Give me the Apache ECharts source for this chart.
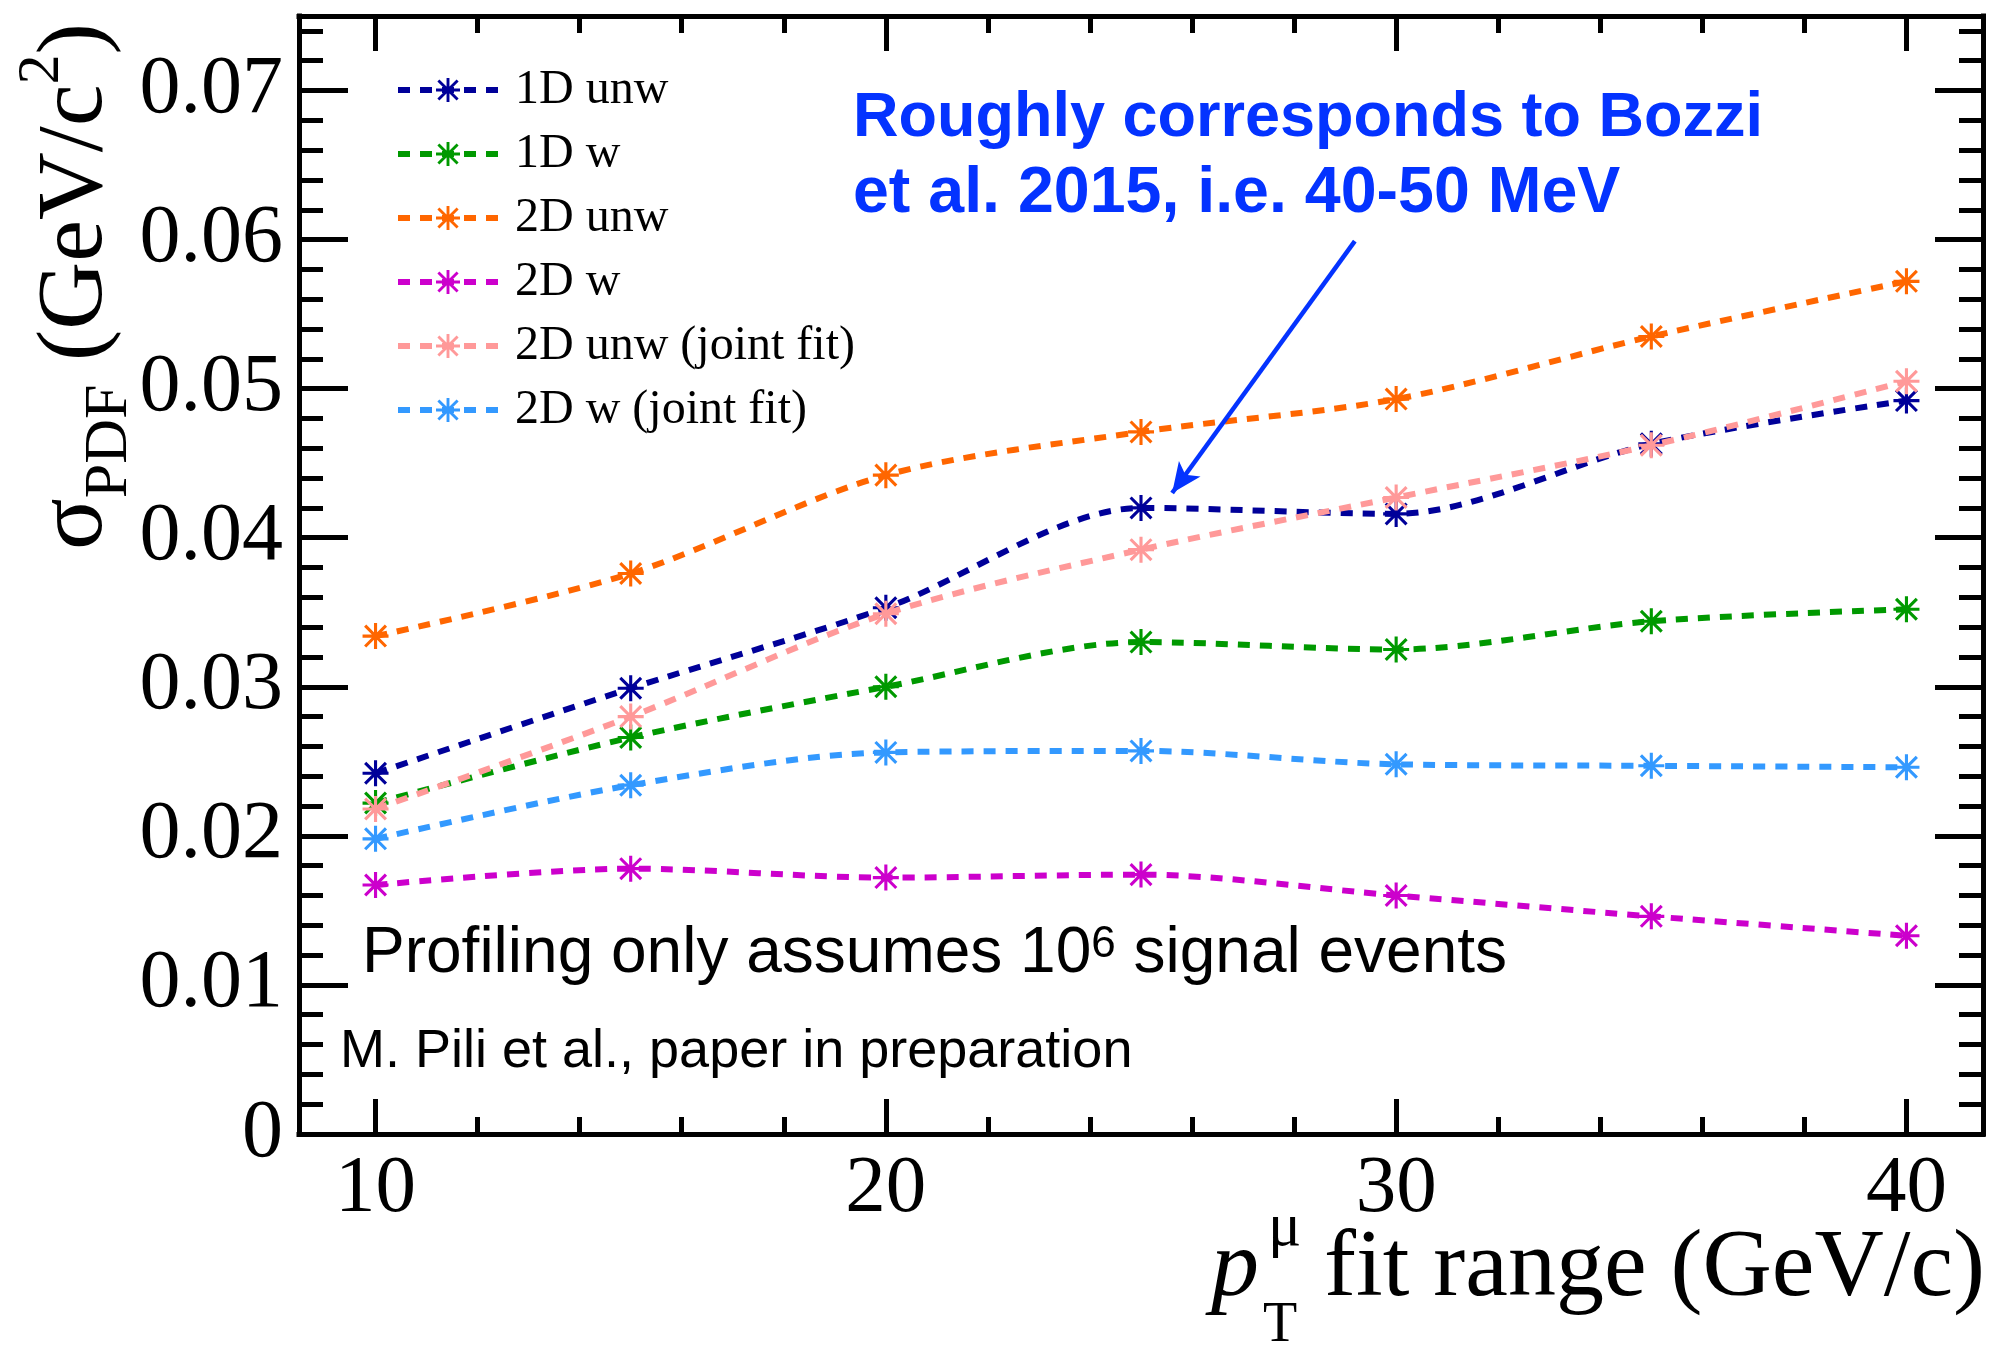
<!DOCTYPE html>
<html>
<head>
<meta charset="utf-8">
<script src="https://cdn.jsdelivr.net/npm/echarts@6/dist/echarts.min.js"></script>
<style>
  html, body { margin: 0; padding: 0; background: #ffffff; }
  #chart { width: 1993px; height: 1347px; }
</style>
</head>
<body>
<div id="chart"></div>
<script>
// pT fit range upper edge (GeV/c)
const fitRange = [10, 15, 20, 25, 30, 35, 40];

// sigma_PDF (GeV/c^2) for each fit configuration
const unw1D      = [0.0242, 0.0299, 0.0353, 0.0420, 0.0416, 0.0463, 0.0492];
const w1D        = [0.0222, 0.0266, 0.0300, 0.0330, 0.0325, 0.0344, 0.0352];
const unw2D      = [0.0334, 0.0376, 0.0442, 0.0471, 0.0493, 0.0535, 0.0572];
const w2D        = [0.0167, 0.0178, 0.0172, 0.0174, 0.0160, 0.0146, 0.0133];
const unw2DJoint = [0.0218, 0.0280, 0.0349, 0.0392, 0.0427, 0.0462, 0.0505];
const w2DJoint   = [0.0198, 0.0234, 0.0256, 0.0257, 0.0248, 0.0247, 0.0246];

const seriesNames = ['1D unw', '1D w', '2D unw', '2D w', '2D unw (joint fit)', '2D w (joint fit)'];
const seriesValues = [unw1D, w1D, unw2D, w2D, unw2DJoint, w2DJoint];

// Axis ticks
const xMajorTicks = [10, 20, 30, 40];
const xMinorTicks = [12, 14, 16, 18, 22, 24, 26, 28, 32, 34, 36, 38];
const yMajorTicks = [0, 0.01, 0.02, 0.03, 0.04, 0.05, 0.06, 0.07];
const yMinorTicks = [0.002, 0.004, 0.006, 0.008, 0.012, 0.014, 0.016, 0.018,
                     0.022, 0.024, 0.026, 0.028, 0.032, 0.034, 0.036, 0.038,
                     0.042, 0.044, 0.046, 0.048, 0.052, 0.054, 0.056, 0.058,
                     0.062, 0.064, 0.066, 0.068, 0.072, 0.074];

// Arrow from the note towards the 25 GeV/c point (data coordinates, tip last)
const arrowFrom = [29.19, 0.0599];
const arrowTo   = [25.61, 0.0430];

const COLORS = ['#000099', '#009900', '#ff6600', '#cc00cc', '#ff9999', '#3399ff'];
const SERIF = '"Liberation Serif", "Times New Roman", serif';
const SANS = '"Liberation Sans", Arial, Helvetica, sans-serif';
const NOTE_BLUE = '#0433ff';

// eight-armed star marker
const STAR = 'path://M44,0L56,0L56,100L44,100Z M0,44L100,44L100,56L0,56Z ' +
  'M5.76,14.24L14.24,5.76L94.24,85.76L85.76,94.24Z M85.76,5.76L94.24,14.24L14.24,94.24L5.76,85.76Z';

const measureCtx = document.createElement('canvas').getContext('2d');
function textWidth(str, font) { measureCtx.font = font; return measureCtx.measureText(str).width; }

// text element placed by its alphabetic baseline
function baseText(str, font, size, x, baseline, fill, sans) {
  const k = sans ? 0.3465 : 0.3375;
  return {
    type: 'text', x: x, y: baseline - k * size, silent: true,
    style: { text: str, font: font, fill: fill || '#000',
             align: 'left', textAlign: 'left', verticalAlign: 'middle', textVerticalAlign: 'middle' }
  };
}

const axisLineStyle = { color: '#000', width: 5, cap: 'square' };
const tickLineStyle = { color: '#000', width: 5 };

function xAxisDef(position, ticks, len, withLine, withLabel) {
  return {
    type: 'value', position: position, min: 8.5, max: 41.5,
    axisLine: { show: withLine, onZero: false, lineStyle: axisLineStyle },
    axisTick: { show: true, inside: true, length: len, customValues: ticks, lineStyle: tickLineStyle },
    axisLabel: withLabel ? {
      show: true, customValues: ticks, margin: 15,
      fontFamily: SERIF, fontSize: 81, color: '#000'
    } : { show: false },
    splitLine: { show: false }
  };
}
function yAxisDef(position, ticks, len, withLine, withLabel) {
  return {
    type: 'value', position: position, min: 0, max: 0.075,
    axisLine: { show: withLine, onZero: false, lineStyle: axisLineStyle },
    axisTick: { show: true, inside: true, length: len, customValues: ticks, lineStyle: tickLineStyle },
    axisLabel: withLabel ? {
      show: true, customValues: ticks, margin: 16,
      fontFamily: SERIF, fontSize: 82, color: '#000',
      formatter: v => (v === 0 ? '0' : v.toFixed(2))
    } : { show: false },
    splitLine: { show: false }
  };
}

const series = seriesValues.map((vals, i) => ({
  name: seriesNames[i],
  type: 'line',
  xAxisIndex: 0, yAxisIndex: 0,
  data: fitRange.map((x, j) => [x, vals[j]]),
  smooth: 0.3,
  symbol: STAR, symbolSize: 26, symbolKeepAspect: true,
  lineStyle: { color: COLORS[i], width: 6, type: [12, 10] },
  itemStyle: { color: COLORS[i], borderWidth: 0 },
  emphasis: { disabled: true },
  z: 2 + i
}));

series[0].markLine = {
  silent: true,
  symbol: ['none', 'arrow'],
  symbolSize: [20, 30],
  label: { show: false },
  emphasis: { disabled: true },
  lineStyle: { color: NOTE_BLUE, width: 4.5, type: 'solid' },
  data: [[{ coord: arrowFrom }, { coord: arrowTo }]]
};

// ---------- axis titles and notes ----------
const graphics = [];

// x title: p_T^mu fit range (GeV/c), right-aligned to the axis end
const xTitleSize = 96;
const xTitleFont = xTitleSize + 'px ' + SERIF;
const fitStr = 'fit range (GeV/c)';
const fitLeft = 1985 - textWidth(fitStr, xTitleFont);
graphics.push(baseText(fitStr, xTitleFont, xTitleSize, fitLeft, 1302));
graphics.push(baseText('p', 'italic ' + xTitleFont, xTitleSize, fitLeft - 113, 1302));
graphics.push(baseText('\u03bc', '62px ' + SERIF, 62, fitLeft - 56, 1250));
graphics.push(baseText('T', '56px ' + SERIF, 56, fitLeft - 61, 1345));

// y title: sigma_PDF (GeV/c^2), rotated, reading upwards from the bottom
const ySegs = [
  { t: '\u03c3', size: 96, shift: 0 },
  { t: 'PDF', size: 62, shift: 23 },
  { t: ' (GeV/c', size: 94, shift: 0 },
  { t: '2', size: 60, shift: -46 },
  { t: ')', size: 94, shift: 0 }
];
let runX = 0;
const yChildren = [];
ySegs.forEach(s => {
  const f = s.size + 'px ' + SERIF;
  yChildren.push(baseText(s.t, f, s.size, runX, s.shift));
  runX += textWidth(s.t, f);
});
graphics.push({ type: 'group', x: 108, y: 550, rotation: Math.PI / 2, children: yChildren, silent: true });

// blue note
const noteFont1 = 'bold 63px ' + SANS;
const noteFont2 = 'bold 64.5px ' + SANS;
graphics.push(baseText('Roughly corresponds to Bozzi', noteFont1, 63, 853, 140, NOTE_BLUE, true));
graphics.push(baseText('et al. 2015, i.e. 40-50 MeV', noteFont2, 64.5, 853, 217, NOTE_BLUE, true));

// profiling note with superscript
const profSize = 64;
graphics.push({
  type: 'text', x: 362, y: 977 - 0.3465 * profSize, silent: true,
  style: {
    text: 'Profiling only assumes 10{sup|6} signal events',
    font: profSize + 'px ' + SANS, fill: '#000', lineHeight: profSize,
    align: 'left', textAlign: 'left', verticalAlign: 'middle', textVerticalAlign: 'middle',
    rich: { sup: { fontSize: 44, fontFamily: SANS, lineHeight: 44, verticalAlign: 'top', fill: '#000' } }
  }
});

// credit line
graphics.push(baseText('M. Pili et al., paper in preparation', '54px ' + SANS, 54, 340, 1071, '#000', true));

const option = {
  animation: false,
  backgroundColor: '#ffffff',
  grid: { left: 299, right: 10, top: 16, bottom: 213, containLabel: false },
  xAxis: [
    xAxisDef('bottom', xMajorTicks, 35, true, true),
    xAxisDef('bottom', xMinorTicks, 17, false, false),
    xAxisDef('top', xMajorTicks, 35, true, false),
    xAxisDef('top', xMinorTicks, 17, false, false)
  ],
  yAxis: [
    yAxisDef('left', yMajorTicks, 49, true, true),
    yAxisDef('left', yMinorTicks, 24, false, false),
    yAxisDef('right', yMajorTicks, 48, true, false),
    yAxisDef('right', yMinorTicks, 24, false, false)
  ],
  legend: {
    orient: 'vertical', left: 395, top: 66, padding: 0,
    itemWidth: 100, itemHeight: 30, itemGap: 16,
    selectedMode: false,
    data: seriesNames,
    textStyle: { fontFamily: SERIF, fontSize: 48, color: '#000', lineHeight: 48, padding: [0, 0, 0, 12] },
    lineStyle: { width: 6, type: [12, 10] }
  },
  series: series,
  graphic: graphics
};

const chart = echarts.init(document.getElementById('chart'), null, { renderer: 'canvas' });
chart.setOption(option);
</script>
</body>
</html>
